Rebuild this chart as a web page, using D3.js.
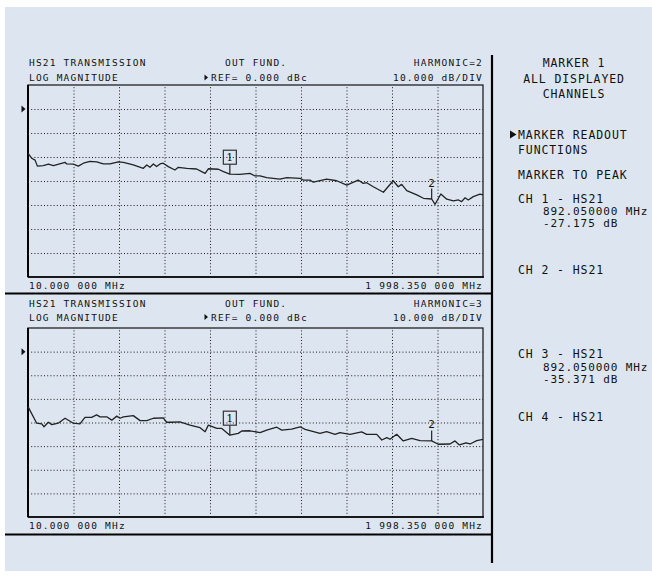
<!DOCTYPE html>
<html><head><meta charset="utf-8">
<script src="https://cdn.jsdelivr.net/npm/d3@7"></script>
<style>
html,body{margin:0;padding:0;background:#fff;}
svg{display:block;}
text{font-family:"DejaVu Sans Mono",monospace;fill:#111;}
</style></head>
<body><svg id="c" width="652" height="578"></svg>
<script>
// ---- data ----
const freqTop = [10,26,41,51,77,99,121,172,179,208,230,252,281,310,339,368,405,427,470,514,529,543,558,572,587,601,623,652,667,704,747,769,784,798,842,864,892.05,936,980,1002,1024,1053,1111,1141,1199,1213,1242,1257,1315,1359,1403,1453,1475,1490,1519,1563,1606,1628,1643,1665,1709,1738,1774,1789,1814,1840,1869,1891,1905,1920,1934,1956,1985,1998.35];
const dbTop = [-18.5,-20.5,-21.3,-23.8,-23.6,-23.0,-23.6,-22.2,-22.9,-23.0,-23.8,-22.6,-21.8,-22.0,-22.9,-22.9,-22.0,-22.2,-23.3,-24.7,-23.3,-24.3,-22.9,-24.0,-22.9,-22.6,-24.0,-25.4,-24.3,-24.7,-25.0,-26.1,-26.8,-24.9,-25.1,-26.1,-27.175,-27.2,-26.8,-27.9,-27.9,-28.6,-29.2,-28.6,-28.9,-29.6,-29.6,-30.5,-29.2,-29.9,-31.7,-29.6,-31.0,-30.7,-32.4,-34.7,-29.9,-32.4,-31.4,-34.0,-35.8,-37.2,-37.5,-39.7,-35.4,-37.6,-38.3,-37.9,-38.6,-37.0,-37.9,-36.5,-35.5,-35.8];
const freqBot = [10,48,70,80,99,114,142,172,208,237,259,288,310,325,354,376,398,412,427,470,500,529,558,601,616,638,674,718,762,784,798,835,857,892.05,929,944,980,1024,1053,1097,1119,1162,1199,1221,1286,1315,1352,1373,1417,1468,1490,1534,1556,1578,1592,1621,1650,1687,1723,1774,1803,1854,1876,1895,1924,1942,1971,1998.35];
const dbBot = [-23.3,-30.3,-30.6,-31.8,-29.9,-30.9,-30.3,-28.2,-30.3,-30.6,-27.8,-27.8,-26.8,-27.6,-27.6,-29.0,-27.3,-28.2,-27.6,-27.1,-29.2,-29.2,-28.2,-28.0,-29.9,-29.9,-29.7,-31.1,-32.2,-33.9,-31.1,-32.5,-32.5,-35.371,-34.6,-33.6,-33.5,-34.3,-33.2,-32.0,-33.2,-32.8,-31.8,-32.9,-34.6,-33.9,-35.0,-34.3,-35.0,-34.0,-35.0,-35.0,-37.4,-36.4,-37.1,-35.0,-37.8,-36.7,-37.7,-37.8,-39.2,-39.1,-37.8,-39.5,-38.6,-39.1,-37.7,-37.1];
const freqStart = 10, freqStop = 1998.35;
const refLevel = 0, dbPerDiv = 10, divsY = 8, divsX = 10, refDiv = 1;
const headerLeft1 = "HS21 TRANSMISSION", headerLeft2 = "LOG MAGNITUDE";
const headerMid1 = "OUT FUND.", headerMid2 = "REF= 0.000 dBc";
const harmonics = ["HARMONIC=2","HARMONIC=3"];
const divLabel = "10.000 dB/DIV";
const startLabel = "10.000 000 MHz", stopLabel = "1 998.350 000 MHz";
const marker1Freq = 892.05, marker2Freq = 1774;
const menuTitle = ["MARKER 1","ALL DISPLAYED","CHANNELS"];
const menuItems = ["MARKER READOUT","FUNCTIONS","MARKER TO PEAK"];
const chLines = [["CH 1 - HS21","892.050000 MHz","-27.175 dB"],["CH 2 - HS21"],["CH 3 - HS21","892.050000 MHz","-35.371 dB"],["CH 4 - HS21"]];

// ---- layout ----
const svg = d3.select("#c");
svg.append("rect").attr("x",5).attr("y",7).attr("width",647).attr("height",564).attr("fill","#dde6f0");

const L = 28, R = 483;
const panels = [
  {top:85, bottom:277, h1:66, h2:81, lab:288.5, freq:freqTop, db:dbTop, harm:harmonics[0]},
  {top:328, bottom:517, h1:306.5, h2:320.5, lab:529, freq:freqBot, db:dbBot, harm:harmonics[1]}
];
const hdrFont = {size:"9.5px", ls:"1.2px"};

panels.forEach(p => {
  const g = svg.append("g");
  const x = d3.scaleLinear().domain([freqStart,freqStop]).range([L,R]);
  const top = refLevel + refDiv*dbPerDiv;
  const y = d3.scaleLinear().domain([top - divsY*dbPerDiv, top]).range([p.bottom,p.top]);
  const xDiv = d3.scaleLinear().domain([0,divsX]).range([L,R]);

  // grid via axes
  const gx = g.append("g").attr("transform",`translate(0,${p.bottom})`)
    .call(d3.axisBottom(xDiv).tickValues(d3.range(1,divsX)).tickSize(-(p.bottom-p.top)).tickFormat(""));
  const gy = g.append("g").attr("transform",`translate(${L},0)`)
    .call(d3.axisLeft(y).tickValues(d3.range(1,divsY).map(i=>top - i*dbPerDiv)).tickSize(-(R-L)).tickFormat(""));
  [gx,gy].forEach(a=>{
    a.select(".domain").remove();
    a.selectAll(".tick line").attr("stroke","#1a1a1a").attr("stroke-width",1).attr("stroke-dasharray","1,2.2");
  });

  // box
  g.append("rect").attr("x",L).attr("y",p.top).attr("width",R-L).attr("height",p.bottom-p.top)
    .attr("fill","none").attr("stroke","#111").attr("stroke-width",1.2);
  g.append("line").attr("x1",L).attr("x2",L).attr("y1",p.top).attr("y2",p.bottom).attr("stroke","#000").attr("stroke-width",2);
  g.append("line").attr("x1",L).attr("x2",R+1).attr("y1",p.bottom).attr("y2",p.bottom).attr("stroke","#000").attr("stroke-width",1.6);

  // ref arrow
  const yr = y(refLevel);
  g.append("path").attr("d",`M21.5,${yr-3.5}L25.5,${yr}L21.5,${yr+3.5}Z`).attr("fill","#111");

  // trace
  const pts = p.freq.map((f,i)=>[f,p.db[i]]);
  g.append("path").datum(pts)
    .attr("d", d3.line().x(d=>x(d[0])).y(d=>y(d[1])))
    .attr("fill","none").attr("stroke","#222").attr("stroke-width",1.3).attr("stroke-linejoin","round");

  const interp = f => { const i = d3.bisectLeft(p.freq,f); if (p.freq[i]===f) return p.db[i];
    const f0=p.freq[i-1], f1=p.freq[i]; return p.db[i-1] + (p.db[i]-p.db[i-1])*(f-f0)/(f1-f0); };

  // marker 1
  const m1x = x(marker1Freq), m1y = y(interp(marker1Freq));
  g.append("line").attr("x1",m1x).attr("x2",m1x).attr("y1",m1y-10).attr("y2",m1y).attr("stroke","#222").attr("stroke-width",1.2);
  g.append("rect").attr("x",m1x-6.5).attr("y",m1y-24).attr("width",13).attr("height",14).attr("fill","none").attr("stroke","#333").attr("stroke-width",1.2);
  g.append("text").attr("x",m1x).attr("y",m1y-13).attr("text-anchor","middle").style("font-family","'DejaVu Serif',serif").style("font-size","11px").text("1");
  // marker 2
  const m2x = x(marker2Freq), m2y = y(interp(marker2Freq));
  g.append("line").attr("x1",m2x).attr("x2",m2x).attr("y1",m2y-10.5).attr("y2",m2y).attr("stroke","#222").attr("stroke-width",1.2);
  g.append("text").attr("x",m2x).attr("y",m2y-12.5).attr("text-anchor","middle").style("font-size","11px").text("2");

  // headers
  const t = (xx,yy,s,anchor) => g.append("text").attr("x",xx).attr("y",yy).attr("text-anchor",anchor||"start")
     .style("font-size",hdrFont.size).style("letter-spacing",hdrFont.ls).text(s);
  t(29,p.h1,headerLeft1); t(29,p.h2,headerLeft2);
  t(225,p.h1,headerMid1);
  g.append("path").attr("d",`M204.5,${p.h2-6.5}L208,${p.h2-3.5}L204.5,${p.h2-0.5}Z`).attr("fill","#111");
  t(211,p.h2,headerMid2);
  t(483,p.h1,p.harm,"end"); t(483,p.h2,divLabel,"end");
  t(29,p.lab,startLabel); t(483,p.lab,stopLabel,"end");
});

// separators
svg.append("line").attr("x1",5).attr("x2",492).attr("y1",293.5).attr("y2",293.5).attr("stroke","#000").attr("stroke-width",2.2);
svg.append("line").attr("x1",5).attr("x2",492).attr("y1",534.5).attr("y2",534.5).attr("stroke","#000").attr("stroke-width",2.2);
svg.append("line").attr("x1",492).attr("x2",492).attr("y1",55).attr("y2",563).attr("stroke","#000").attr("stroke-width",2.2);

// right menu
const mt = (xx,yy,s,anchor,fs) => svg.append("text").attr("x",xx).attr("y",yy).attr("text-anchor",anchor||"start")
  .style("font-size",fs||"11.5px").style("letter-spacing","0.9px").text(s);
const menuY = [67,83,98];
menuTitle.forEach((s,i)=>mt(574,menuY[i],s,"middle"));
svg.append("path").attr("d","M510,130.5L516.5,134.5L510,138.5Z").attr("fill","#111");
const itemY = [139,154,179];
menuItems.forEach((s,i)=>mt(518,itemY[i],s));
const chY = [[203,214.5,226.5],[274],[358,370.5,382.5],[420.5]];
chLines.forEach((lines,ci)=>lines.forEach((s,i)=>mt(i===0?518:543, chY[ci][i], s, "start", i===0?"11.5px":"11px")));
</script></body></html>
